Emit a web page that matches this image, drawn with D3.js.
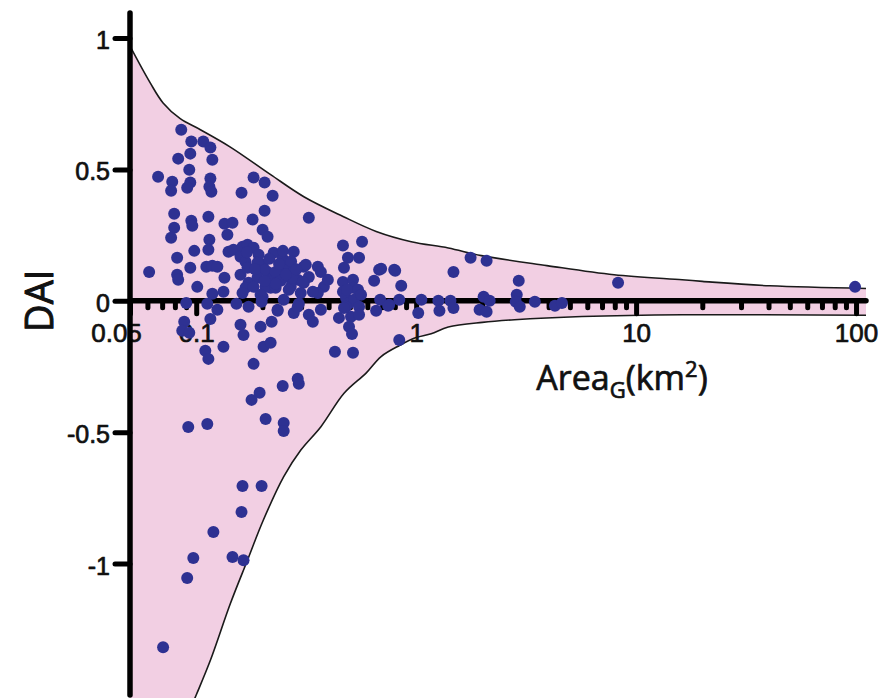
<!DOCTYPE html>
<html>
<head>
<meta charset="utf-8">
<script src="https://cdn.jsdelivr.net/npm/d3@7"></script>
<style>
  html, body { margin: 0; padding: 0; background: #fff; }
  svg { display: block; font-family: "Open Sans", "Noto Sans", sans-serif; }
</style>
</head>
<body>
<svg id="chart" width="883" height="700"></svg>
<script>
// Glacier area (km²) and the matching DAI value of each sampled glacier
const areas = [
  0.0855, 0.0950, 0.1077, 0.116, 0.0940, 0.0828, 0.1184, 0.0930, 0.0671, 0.0778,
  0.0769, 0.0940, 0.0910, 0.116, 0.1148, 0.1172, 0.1607, 0.1823, 0.2046, 0.2226,
  0.0794, 0.0950, 0.0960, 0.0794, 0.1136, 0.1344, 0.1462, 0.1386, 0.1804, 0.2046,
  0.2004, 0.2111, 0.0769, 0.1148, 0.3251, 0.1136, 0.0980, 0.0819, 0.0611, 0.0819,
  0.0828, 0.0940, 0.1112, 0.1184, 0.1248, 0.1344, 0.1011, 0.1184, 0.1330, 0.1402,
  0.1477, 0.1624, 0.1711, 0.1823, 0.1590, 0.1676, 0.1590, 0.1711, 0.1730, 0.1676,
  0.1922, 0.2004, 0.2111, 0.2250, 0.2250, 0.2180, 0.2004, 0.2473, 0.2776, 0.1900,
  0.2046, 0.2499, 0.2690, 0.3084, 0.3572, 0.3688, 0.3251, 0.1900, 0.2605, 0.2894,
  0.1823, 0.2068, 0.2297, 0.2690, 0.3084, 0.3806, 0.3968, 0.1624, 0.1962, 0.2988,
  0.3572, 0.4648, 0.5676, 0.4897, 0.5501, 0.4697, 0.6788, 0.7947, 0.6440, 0.8554,
  0.2552, 0.3150, 0.2297, 0.2421, 0.2747, 0.3052, 0.3390, 0.2635, 0.4648, 0.5163,
  0.5163, 0.5440, 0.4648, 0.4797, 0.4952, 0.5218, 0.5616, 0.4797, 0.5501, 0.2499,
  0.2927, 0.2345, 0.2776, 0.3251, 0.3390, 0.3688, 0.4457, 0.5056, 0.5501, 0.4952,
  0.5109, 0.6576, 0.6860, 0.7541, 0.8378, 1.022, 1.056, 0.8378, 0.4273, 0.5163,
  0.0901, 0.1123, 0.1248, 0.1160, 0.0882, 0.0864, 0.0930, 0.1100, 0.1136, 0.1330,
  0.1524, 0.1730, 0.1983, 0.2345, 0.1590, 0.1641, 0.1962, 0.2203, 0.2025, 0.2180,
  0.1823, 0.2473, 0.2927, 0.1785, 0.1942, 0.2068, 0.0920, 0.1123, 0.2499, 0.2499,
  0.1624, 0.1983, 0.1607, 0.1197, 0.0970, 0.0910, 0.1462, 0.1641, 0.0707, 0.6931,
  0.8031, 1.478, 1.768, 2.091, 2.927, 8.28, 0.7458, 1.262, 1.276, 1.432,
  1.478, 2.026, 1.943, 2.091, 2.159, 2.867, 2.837, 2.959, 3.465, 4.276,
  4.602, 99.0, 0.2894, 0.4697, 0.4847, 0.2894,
  0.2150, 0.2380, 0.2560, 0.1850, 0.2700, 0.2300, 0.1700, 0.2850, 0.2050, 0.2480
];
const dai = [
  0.651, 0.606, 0.606, 0.583, 0.560, 0.541, 0.537, 0.499, 0.472, 0.453,
  0.419, 0.450, 0.430, 0.465, 0.434, 0.415, 0.411, 0.469, 0.450, 0.400,
  0.331, 0.305, 0.286, 0.278, 0.320, 0.293, 0.297, 0.251, 0.309, 0.343,
  0.270, 0.244, 0.240, 0.232, 0.316, 0.194, 0.190, 0.164, 0.110, 0.099,
  0.080, 0.126, 0.130, 0.133, 0.130, 0.088, 0.053, 0.027, 0.034, 0.187,
  0.194, 0.206, 0.213, 0.202, 0.168, 0.149, 0.099, 0.126, 0.069, 0.050,
  0.175, 0.137, 0.110, 0.183, 0.088, 0.050, 0.015, 0.160, 0.187, 0.145,
  0.118, 0.126, 0.107, 0.130, 0.130, 0.110, 0.091, 0.088, 0.091, 0.080,
  0.053, 0.053, 0.050, 0.053, 0.069, 0.053, 0.080, 0.030, 0.023, 0.030,
  0.030, 0.210, 0.225, 0.164, 0.164, 0.126, 0.118, 0.118, 0.076, 0.057,
  0.145, 0.137, 0.110, 0.076, 0.088, 0.072, 0.034, 0.042, 0.072, 0.080,
  0.050, 0.042, 0.034, 0.011, -0.008, 0.004, 0.023, -0.023, -0.023, 0.004,
  -0.011, -0.034, -0.046, -0.053, -0.080, -0.034, -0.065, -0.061, -0.053, -0.099,
  -0.126, -0.038, 0.004, -0.015, 0.004, -0.046, 0.004, -0.149, -0.194, -0.198,
  -0.008, -0.011, -0.034, -0.069, -0.080, -0.114, -0.122, -0.190, -0.221, -0.175,
  -0.011, -0.023, -0.004, -0.038, -0.091, -0.130, -0.099, -0.080, -0.175, -0.160,
  -0.240, -0.324, -0.316, -0.377, -0.350, -0.450, -0.480, -0.469, -0.465, -0.495,
  -0.705, -0.705, -0.804, -0.880, -0.979, -1.055, -0.975, -0.987, -1.318, 0.122,
  0.114, 0.110, 0.164, 0.152, 0.076, 0.069, -0.019, 0.000, -0.038, 0.000,
  -0.027, 0.015, -0.034, -0.042, 0.000, 0.023, -0.004, -0.023, -0.004, -0.019,
  -0.008, 0.053, -0.297, -0.027, 0.042, -0.023,
  0.160, 0.140, 0.100, 0.120, 0.150, 0.065, 0.185, 0.120, 0.075, 0.190
];

// Envelope bounding the scatter: upper and lower limit curves
const upperArea = [0.05, 0.0617, 0.0707, 0.0846, 0.1045, 0.143, 0.218, 0.31, 0.465, 0.658, 0.95, 1.40, 1.98, 3.93, 7.94, 16.2, 20, 40.5, 111];
const upperDai  = [0.969, 0.83, 0.753, 0.693, 0.651, 0.585, 0.48, 0.395, 0.321, 0.264, 0.225, 0.201, 0.172, 0.134, 0.099, 0.080, 0.074, 0.057, 0.047];
const lowerArea = [0.09, 0.100, 0.116, 0.143, 0.171, 0.202, 0.250, 0.299, 0.369, 0.470, 0.592, 0.693, 0.84, 1.0, 1.17, 1.40, 2.0, 2.8, 5.67, 16.2, 111];
const lowerDai  = [-1.59, -1.50, -1.368, -1.152, -0.987, -0.834, -0.669, -0.568, -0.479, -0.352, -0.275, -0.212, -0.17, -0.14, -0.125, -0.100, -0.082, -0.072, -0.060, -0.053, -0.055];

// Axis ticks and labels
const xMajorTicks = [0.05, 0.1, 1, 10, 100];
const xTickLabels = ["0.05", "0.1", "1", "10", "100"];
const xMinorTicks = [0.06, 0.07, 0.08, 0.09,
  0.2, 0.3, 0.4, 0.5, 0.6, 0.7, 0.8, 0.9,
  2, 3, 4, 5, 6, 7, 8, 9,
  20, 30, 40, 50, 60, 70, 80, 90];
const yTicks = [-1, -0.5, 0, 0.5, 1];
const yTickLabels = ["-1", "-0.5", "0", "0.5", "1"];

// Axis extents
const xEnd = 111;
const yTop = 1.095, yBottom = -1.5;

const svg = d3.select("#chart");
const x = d3.scaleLog().domain([0.05, xEnd]).range([130, 866]);
const y = d3.scaleLinear().domain([-1.5, 1]).range([695, 38]);

const pink = "#f2cfe3";
const dotColor = "#2e3192";
const ink = "#111";

// Slightly heavier glyphs than the regular face
const inkText = sel => sel.attr("fill", ink).attr("stroke", ink)
  .attr("stroke-width", 0.7).attr("stroke-linejoin", "round");

svg.append("defs").append("clipPath").attr("id", "plotClip")
  .append("rect").attr("x", x(0.05)).attr("y", 0)
  .attr("width", 883 - x(0.05)).attr("height", y(yBottom) + 3);

const upperPts = upperArea.map((a, i) => [a, upperDai[i]]);
const lowerPts = lowerArea.map((a, i) => [a, lowerDai[i]]);
const line = d3.line()
  .x(d => x(d[0])).y(d => y(d[1]))
  .curve(d3.curveCatmullRom.alpha(0.5));

const plot = svg.append("g").attr("clip-path", "url(#plotClip)");

// Shaded envelope band
const bandPath = line(upperPts) + "L" + line(lowerPts.slice().reverse()).slice(1)
  + `L${x(0.05)},${y(-1.8)}Z`;
plot.append("path").attr("d", bandPath).attr("fill", pink).attr("stroke", "none");

// Envelope boundary lines
plot.append("path").attr("d", line(upperPts))
  .attr("fill", "none").attr("stroke", "#1a1a1a").attr("stroke-width", 1.6);
plot.append("path").attr("d", line(lowerPts))
  .attr("fill", "none").attr("stroke", "#1a1a1a").attr("stroke-width", 1.6);

// Axes
const styleAxis = g => {
  g.select(".domain").remove();
  g.selectAll(".tick line")
    .attr("stroke", "#000").attr("stroke-width", 5).attr("stroke-linecap", "round");
  g.selectAll(".tick text").attr("font-family", null).call(inkText);
};

svg.append("g").attr("transform", `translate(0,${y(0)})`)
  .call(d3.axisBottom(x).tickValues(xMinorTicks).tickSize(7).tickFormat(""))
  .call(styleAxis);

const xMajor = svg.append("g").attr("transform", `translate(0,${y(0)})`)
  .call(d3.axisBottom(x).tickValues(xMajorTicks).tickSize(13).tickPadding(10)
    .tickFormat((d, i) => xTickLabels[i]))
  .call(styleAxis);
xMajor.selectAll(".tick text").attr("font-size", 26)
  .attr("dx", d => d === 0.05 ? -14 : 0);

const yAxis = svg.append("g").attr("transform", `translate(${x(0.05)},0)`)
  .call(d3.axisLeft(y).tickValues(yTicks).tickSize(15).tickPadding(5)
    .tickFormat(d => yTickLabels[yTicks.indexOf(d)]))
  .call(styleAxis);
yAxis.selectAll(".tick text").attr("font-size", 25).attr("dy", "0.42em");

// Main axis lines
svg.append("line")
  .attr("x1", x(0.05)).attr("x2", x(0.05))
  .attr("y1", y(yTop)).attr("y2", y(yBottom))
  .attr("stroke", "#000").attr("stroke-width", 5.5).attr("stroke-linecap", "round");
svg.append("line")
  .attr("x1", x(0.05)).attr("x2", x(xEnd))
  .attr("y1", y(0)).attr("y2", y(0))
  .attr("stroke", "#000").attr("stroke-width", 5.5).attr("stroke-linecap", "round");

// Axis titles
const xTitle = svg.append("text")
  .attr("x", 622).attr("y", 390)
  .attr("text-anchor", "middle").attr("font-size", 34)
  .call(inkText);
xTitle.append("tspan").text("Area");
xTitle.append("tspan").attr("font-size", 22).attr("dy", 8).text("G");
xTitle.append("tspan").attr("dy", -8).text("(km");
xTitle.append("tspan").attr("font-size", 22).attr("dy", -13).text("2");
xTitle.append("tspan").attr("dy", 13).text(")");

svg.append("text")
  .attr("transform", `translate(53,${y(0)}) rotate(-90)`)
  .attr("text-anchor", "middle").attr("font-size", 38)
  .call(inkText).attr("stroke-width", 1)
  .text("DAI");

// Glacier points
svg.append("g").selectAll("circle")
  .data(areas.map((a, i) => [a, dai[i]]))
  .join("circle")
  .attr("cx", d => x(d[0])).attr("cy", d => y(d[1]))
  .attr("r", 6).attr("fill", dotColor);
</script>
</body>
</html>
